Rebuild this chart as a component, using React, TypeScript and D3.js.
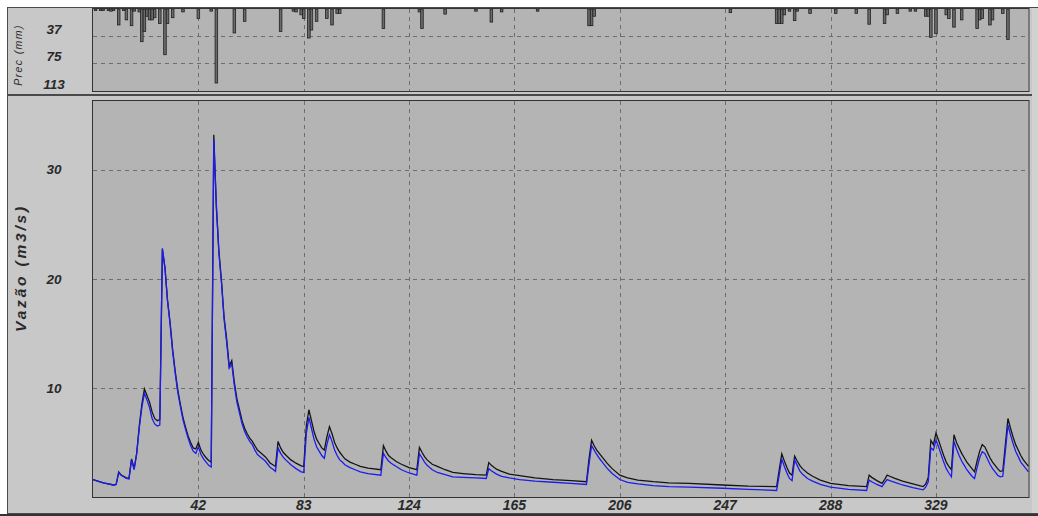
import * as d3 from "d3";

// daily discharge (m3/s): observed (black) and simulated (blue)
const days = [
  1, 5, 9, 10, 11, 12, 14, 15, 16, 17, 18, 19, 20, 21, 22, 23, 24, 25, 26, 27,
  28, 29, 30, 31, 32, 33, 34, 35, 36, 37, 38, 39, 40, 41, 42, 43, 44, 45, 46, 47,
  48, 49, 50, 51, 52, 53, 54, 55, 56, 57, 58, 59, 60, 61, 62, 63, 64, 65, 66, 67,
  68, 69, 70, 71, 72, 73, 74, 75, 76, 78, 80, 82, 83, 84, 85, 86, 87, 88, 89, 90,
  91, 92, 93, 94, 95, 96, 97, 98, 99, 101, 103, 105, 108, 113, 114, 115, 116, 117, 119, 121,
  124, 127, 128, 129, 130, 131, 133, 135, 138, 141, 145, 150, 154, 155, 156, 158, 160, 163, 167, 173,
  180, 187, 193, 194, 195, 196, 197, 198, 199, 201, 203, 206, 209, 213, 219, 225, 233, 246, 256, 267,
  268, 269, 270, 271, 272, 273, 274, 275, 276, 277, 279, 281, 284, 288, 295, 302, 303, 304, 306, 308,
  309, 310, 311, 313, 316, 320, 324, 325, 326, 327, 328, 329, 330, 331, 332, 333, 334, 335, 336, 337,
  338, 339, 340, 341, 342, 343, 344, 345, 346, 347, 348, 349, 350, 351, 352, 353, 354, 355, 356, 357,
  358, 359, 360, 361, 362, 363, 364, 365,
];

const obsFlow = [
  1.6, 1.3, 1.1, 1.15, 2.3, 2.0, 1.75, 1.7, 3.5, 2.6, 4.0, 6.5, 8.5, 9.9, 9.3, 8.7, 7.8, 7.2, 7.0, 7.1,
  22.7, 21.0, 18.0, 16.0, 13.5, 11.5, 9.8, 8.5, 7.3, 6.4, 5.6, 5.0, 4.5, 4.4, 5.0, 4.3, 3.9, 3.6, 3.35, 3.2,
  33.2, 26.5, 22.5, 19.8, 16.5, 14.5, 12.0, 12.5, 10.5, 9.0, 8.0, 7.0, 6.3, 5.8, 5.4, 5.1, 4.7, 4.3, 4.1, 3.9,
  3.7, 3.4, 3.1, 2.95, 2.8, 5.1, 4.5, 4.1, 3.85, 3.4, 3.1, 2.85, 2.8, 6.5, 8.0, 7.0, 6.0, 5.3, 4.9, 4.5,
  4.3, 5.5, 6.45, 5.8, 5.0, 4.5, 4.1, 3.8, 3.5, 3.2, 3.0, 2.8, 2.65, 2.5, 4.7, 4.2, 3.8, 3.6, 3.25, 3.0,
  2.7, 2.5, 4.55, 4.1, 3.7, 3.4, 3.0, 2.8, 2.5, 2.25, 2.15, 2.05, 2.0, 3.15, 2.9, 2.55, 2.35, 2.1, 1.95, 1.75,
  1.6, 1.5, 1.4, 3.5, 5.2, 4.7, 4.3, 4.0, 3.7, 3.1, 2.6, 2.0, 1.75, 1.55, 1.4, 1.3, 1.25, 1.1, 1.0, 0.95,
  2.5, 3.95, 3.3, 2.7, 2.2, 2.0, 3.75, 3.3, 2.9, 2.6, 2.2, 1.9, 1.55, 1.25, 1.05, 0.95, 2.0, 1.8, 1.5, 1.25,
  1.6, 2.0, 1.9, 1.7, 1.45, 1.2, 0.95, 1.2, 1.8, 5.2, 4.8, 5.85, 5.2, 4.5, 3.8, 3.2, 2.8, 2.5, 5.7, 5.0,
  4.5, 4.0, 3.6, 3.2, 2.9, 2.6, 2.3, 3.3, 4.2, 4.8, 4.6, 4.1, 3.6, 3.2, 2.9, 2.6, 2.35, 2.4, 4.8, 7.2,
  6.3, 5.5, 4.8, 4.3, 3.8, 3.4, 3.1, 2.8,
];

const simFlow = [
  1.6, 1.3, 1.1, 1.15, 2.2, 2.0, 1.7, 1.65, 3.4, 2.5, 4.0, 6.3, 8.2, 9.5, 8.9, 8.2, 7.2, 6.7, 6.5, 6.6,
  22.8, 21.0, 18.0, 15.8, 13.3, 11.3, 9.6, 8.3, 7.1, 6.2, 5.4, 4.7, 4.2, 4.0, 4.6, 3.9, 3.5, 3.2, 2.9, 2.75,
  32.8, 26.8, 22.3, 19.6, 16.3, 14.2, 11.8, 12.2, 10.2, 8.7, 7.7, 6.7, 6.0, 5.5, 5.1, 4.8, 4.3, 3.9, 3.7, 3.5,
  3.3, 3.0, 2.7, 2.55, 2.35, 4.5, 4.0, 3.65, 3.4, 2.95, 2.6, 2.3, 2.25, 5.8, 7.3, 6.3, 5.3, 4.6, 4.2, 3.8,
  3.55, 4.8, 5.7, 5.1, 4.3, 3.8, 3.4, 3.2, 2.95, 2.7, 2.5, 2.3, 2.15, 2.0, 4.0, 3.6, 3.3, 3.1, 2.8, 2.5,
  2.2, 2.0, 3.95, 3.6, 3.2, 2.9, 2.5, 2.25, 2.05, 1.85, 1.8, 1.75, 1.7, 2.6, 2.4, 2.1, 1.9, 1.75, 1.6, 1.45,
  1.35, 1.25, 1.15, 3.0, 4.7, 4.3, 3.9, 3.55, 3.25, 2.65, 2.15, 1.6, 1.35, 1.2, 1.05, 0.95, 0.9, 0.8, 0.7, 0.6,
  2.0, 3.45, 2.8, 2.2, 1.7, 1.5, 3.4, 2.9, 2.4, 2.1, 1.7, 1.45, 1.15, 0.9, 0.7, 0.6, 1.56, 1.4, 1.15, 0.95,
  1.3, 1.6, 1.5, 1.35, 1.1, 0.85, 0.65, 0.9, 1.4, 4.5, 4.3, 5.2, 4.6, 3.9, 3.2, 2.6, 2.2, 1.85, 5.1, 4.4,
  3.8, 3.3, 2.9, 2.5, 2.2, 1.9, 1.7, 2.7, 3.6, 4.15, 4.0, 3.5, 3.0, 2.6, 2.3, 2.0, 1.85, 1.9, 4.2, 6.6,
  5.7, 4.9, 4.2, 3.7, 3.2, 2.9, 2.6, 2.3,
];

// daily rainfall (mm)
const rainDays = [
  2, 4, 5, 7, 8, 9, 11, 13, 14, 16, 17, 19, 20, 21, 22, 23, 24, 25, 27, 29,
  30, 32, 36, 42, 47, 49, 56, 60, 74, 79, 80, 82, 83, 85, 86, 88, 92, 94, 96, 97,
  114, 128, 129, 138, 150, 156, 160, 174, 194, 195, 196, 249, 267, 268, 269, 270, 272, 274, 275, 280,
  290, 298, 303, 309, 310, 314, 319, 321, 325, 326, 327, 329, 333, 334, 336, 339, 345, 346, 347, 350,
  351, 355, 357,
];
const rainMm = [
  2, 2, 2, 2, 3, 2, 22, 2, 15, 23, 3, 4, 45, 31, 10, 15, 15, 12, 20, 63,
  20, 12, 4, 13, 3, 102, 33, 17, 31, 3, 4, 8, 13, 40, 29, 17, 13, 22, 6, 6,
  27, 4, 27, 7, 3, 18, 4, 3, 23, 23, 10, 5, 20, 20, 20, 8, 3, 16, 3, 6,
  6, 6, 21, 20, 8, 6, 3, 3, 10, 10, 39, 34, 8, 13, 25, 15, 27, 15, 13, 22,
  15, 6, 42,
];

const dayTicks = [42, 83, 124, 165, 206, 247, 288, 329];
const flowTicks = [10, 20, 30];
const rainTicks = [37, 75, 113];

const W = 1038;
const H = 516;
const plotLeft = 93;
const plotRight = 1028.5;
const rainTop = 9;
const rainBottom = 91;
const flowTop = 101;
const flowBottom = 497;

const PANEL = "#c8c8c8";
const PLOT = "#b4b4b4";
const GRID = "#6e6e6e";
const TEXT = "#2a2a2a";

export default function App() {
  const x = d3.scaleLinear().domain([1, 365]).range([plotLeft, plotRight]);
  const yRain = d3.scaleLinear().domain([0, 113]).range([rainTop, rainBottom]);
  const yFlow = d3.scaleLinear().domain([0, 36.3]).range([flowBottom, flowTop]);

  const line = d3
    .line<number>()
    .x((_, i) => x(days[i]))
    .y((d) => yFlow(d));

  const barW = x(2) - x(1);
  const font = "'Liberation Sans', Arial, sans-serif";

  return (
    <div style={{ position: "absolute", left: 0, top: 0, width: W, height: H, background: "#fff" }}>
      <svg width={W} height={H} style={{ display: "block" }}>
        {/* outer panels */}
        <rect x={7.5} y={7.5} width={W} height={87} fill={PANEL} stroke="#4a4a4a" />
        <rect x={7.5} y={95.5} width={W} height={418} fill={PANEL} stroke="#4a4a4a" />
        <rect x={1032} y={8} width={6} height={505} fill="#d2d2d2" />
        <line x1={0} x2={W} y1={515} y2={515} stroke="#333" strokeWidth={2} />

        {/* rainfall panel */}
        <rect x={plotLeft} y={rainTop} width={plotRight - plotLeft} height={rainBottom - rainTop} fill={PLOT} />
        {rainTicks.slice(0, 2).map((t) => (
          <line key={t} x1={plotLeft} x2={plotRight} y1={Math.round(yRain(t)) + 0.5} y2={Math.round(yRain(t)) + 0.5}
            stroke={GRID} strokeDasharray="4,4" />
        ))}
        {dayTicks.map((t) => (
          <line key={t} x1={Math.round(x(t)) + 0.5} x2={Math.round(x(t)) + 0.5} y1={rainTop} y2={rainBottom}
            stroke={GRID} strokeDasharray="4,4" />
        ))}
        {rainDays.map((d, i) => (
          <rect key={i} x={x(d) - barW / 2} y={rainTop} width={barW} height={yRain(rainMm[i]) - rainTop}
            fill="#6a6a6a" stroke="#202020" strokeWidth={0.8} />
        ))}
        <rect x={plotLeft - 0.5} y={rainTop - 0.5} width={plotRight - plotLeft + 1} height={rainBottom - rainTop + 1}
          fill="none" stroke="#333" />
        {rainTicks.map((t) => (
          <text key={t} x={54} y={yRain(t) - 2} textAnchor="middle" fontFamily={font} fontStyle="italic"
            fontWeight="bold" fontSize={13.5} fill={TEXT}>{t}</text>
        ))}
        <text transform="translate(22,55) rotate(-90)" textAnchor="middle" fontFamily={font} fontStyle="italic"
          fontSize={10.5} letterSpacing={1.4} fill={TEXT}>Prec (mm)</text>

        {/* discharge panel */}
        <rect x={plotLeft} y={flowTop} width={plotRight - plotLeft} height={flowBottom - flowTop} fill={PLOT} />
        {flowTicks.map((t) => (
          <line key={t} x1={plotLeft} x2={plotRight} y1={Math.round(yFlow(t)) + 0.5} y2={Math.round(yFlow(t)) + 0.5}
            stroke={GRID} strokeDasharray="4,4" />
        ))}
        {dayTicks.map((t) => (
          <line key={t} x1={Math.round(x(t)) + 0.5} x2={Math.round(x(t)) + 0.5} y1={flowTop} y2={flowBottom}
            stroke={GRID} strokeDasharray="4,4" />
        ))}
        <path d={line(obsFlow) ?? ""} fill="none" stroke="#141414" strokeWidth={1.3} />
        <path d={line(simFlow) ?? ""} fill="none" stroke="#1c1cf0" strokeWidth={1.3} />
        <rect x={plotLeft - 0.5} y={flowTop - 0.5} width={plotRight - plotLeft + 1} height={flowBottom - flowTop + 1}
          fill="none" stroke="#333" />
        {flowTicks.map((t) => (
          <text key={t} x={54} y={yFlow(t)} dy="0.35em" textAnchor="middle" fontFamily={font} fontStyle="italic"
            fontWeight="bold" fontSize={13.5} fill={TEXT}>{t}</text>
        ))}
        {dayTicks.map((t) => (
          <text key={t} x={x(t)} y={505} dy="0.35em" textAnchor="middle" fontFamily={font} fontStyle="italic"
            fontWeight="bold" fontSize={14} fill={TEXT}>{t}</text>
        ))}
        <text transform="translate(21,268) rotate(-90)" textAnchor="middle" dy="0.35em" fontFamily={font}
          fontStyle="italic" fontWeight="bold" fontSize={15.5} letterSpacing={2.8} fill={TEXT}>Vazão (m3/s)</text>
      </svg>
    </div>
  );
}
